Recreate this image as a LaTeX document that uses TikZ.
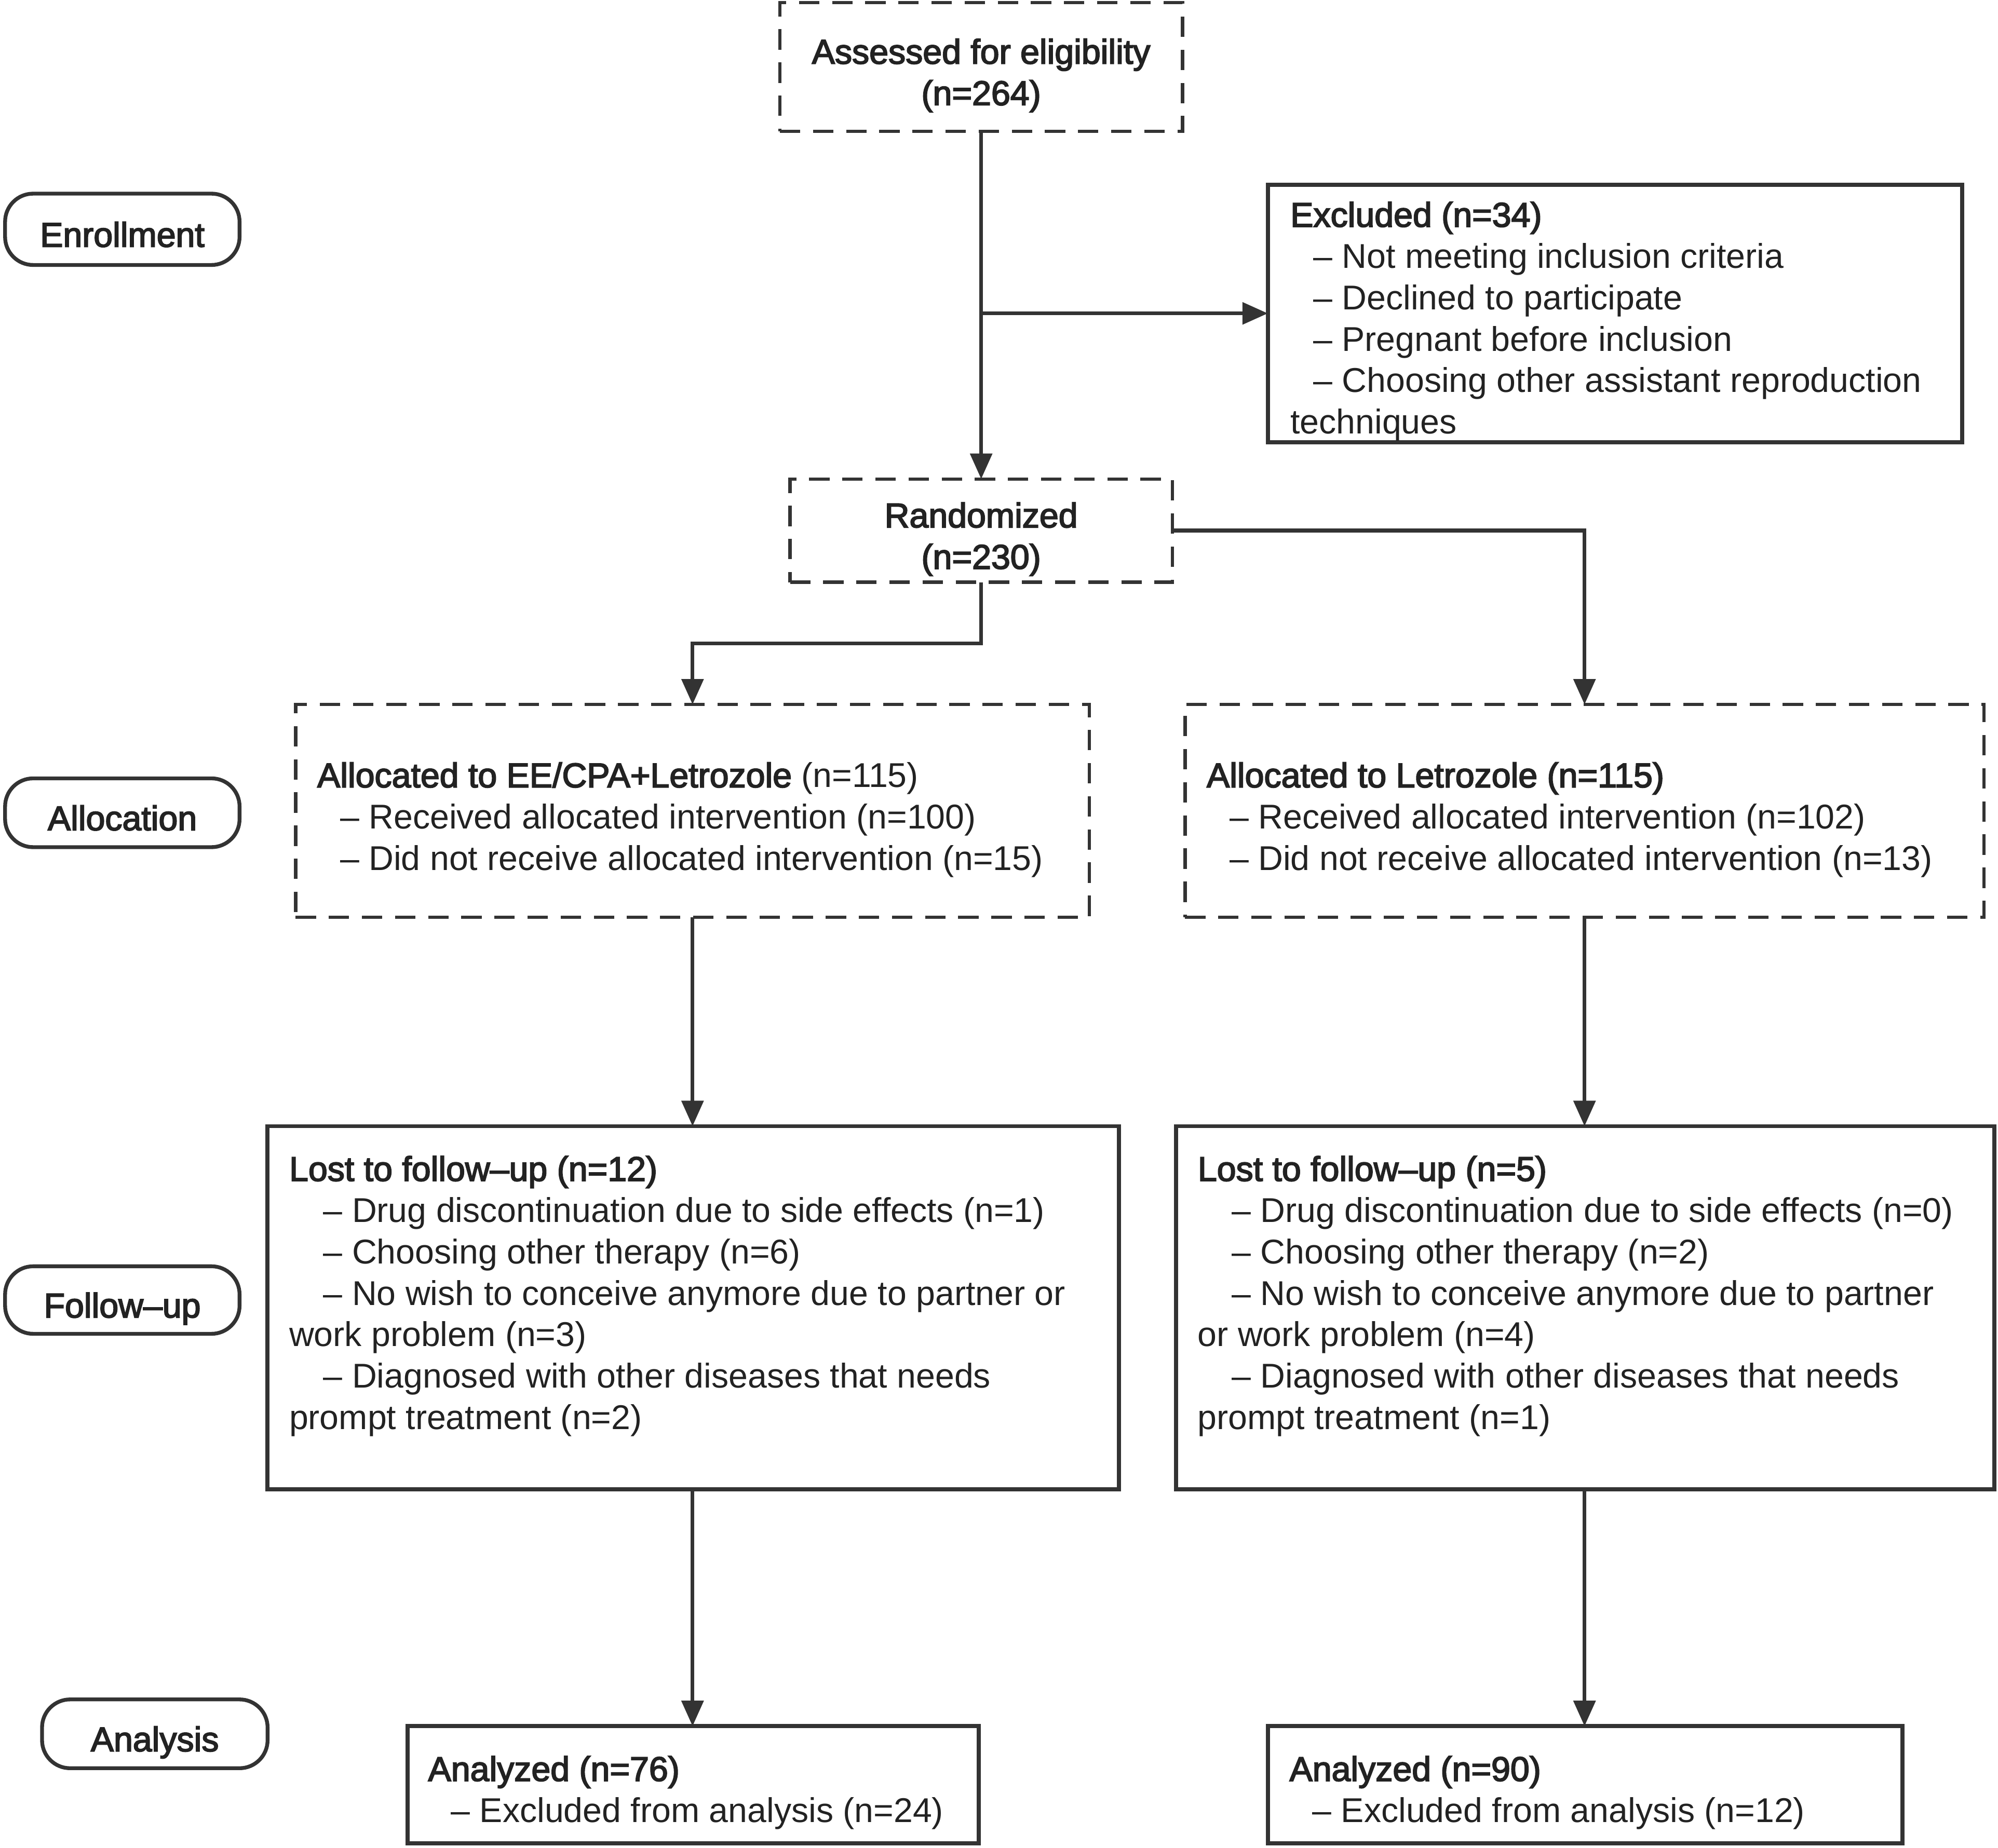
\documentclass[tikz,border=0pt]{standalone}
\usepackage{fontspec}
\setmainfont{Liberation Sans}
\newfontfamily\medfont{Liberation Sans}[FakeBold=3]
\usetikzlibrary{arrows.meta}
\definecolor{ln}{HTML}{333333}
\definecolor{tx}{HTML}{222222}
\newcommand{\inda}{\hspace*{9pt}}
\newcommand{\indb}{\hspace*{13.4pt}}
\newcommand{\md}[1]{{\medfont #1}}
\begin{document}
\begin{tikzpicture}[x=0.5pt,y=-0.5pt,
  sbox/.style={draw=ln, line width=1.6pt, inner sep=0pt, outer sep=0pt},
  dbox/.style={draw=ln, line width=1.3pt, dash pattern=on 8pt off 5pt, inner sep=0pt, outer sep=0pt},
  stad/.style={draw=ln, line width=1.5pt, rounded corners=11pt, inner sep=0pt, text=tx,
    text height=13.7pt, text depth=0pt,
    font=\fontsize{13.5}{16.25}\selectfont\medfont},
  txt/.style={inner sep=0pt, outer sep=0pt, text=tx, font=\fontsize{13.5}{16.25}\selectfont},
  arr/.style={draw=ln, line width=1.5pt, -{Triangle[length=10pt,width=8.5pt]}},
]
\useasboundingbox (0,0) rectangle (1568,1450.6);

% stage labels
\node[stad, minimum width=92pt, minimum height=28pt] (enr) at (96,180) {Enrollment};
\node[stad, minimum width=92pt, minimum height=27pt] (alc) at (96,638) {Allocation};
\node[stad, minimum width=92pt, minimum height=26.5pt] (fup) at (96,1020.5) {Follow–up};
\node[stad, minimum width=88.5pt, minimum height=27pt] (ana) at (121.5,1361) {Analysis};

% boxes
\node[dbox, minimum width=158pt, minimum height=50.5pt] (assess) at (770,52.5) {};
\node[sbox, minimum width=272.5pt, minimum height=101pt] (excl) at (1267.5,246) {};
\node[dbox, minimum width=150pt, minimum height=40.5pt] (rand) at (770,416.5) {};
\node[dbox, minimum width=311.5pt, minimum height=83.5pt] (allocL) at (543.5,636.5) {};
\node[dbox, minimum width=313.5pt, minimum height=83.5pt] (allocR) at (1243.5,636.5) {};
\node[sbox, minimum width=334pt, minimum height=142.5pt] (lostL) at (544,1026.5) {};
\node[sbox, minimum width=321pt, minimum height=142.5pt] (lostR) at (1244,1026.5) {};
\node[sbox, minimum width=224pt, minimum height=46pt] (anaL) at (544,1401) {};
\node[sbox, minimum width=249pt, minimum height=46pt] (anaR) at (1244,1401) {};

% texts
\node[txt, anchor=base] (assessT) at (770,50) {\begin{tabular}[t]{@{}c@{}}\md{Assessed for eligibility}\\\md{(n=264)}\end{tabular}};
\node[txt, anchor=base west] (exclT) at (1012.7,178) {\begin{tabular}[t]{@{}l@{}}
\md{Excluded (n=34)}\\
\inda– Not meeting inclusion criteria\\
\inda– Declined to participate\\
\inda– Pregnant before inclusion\\
\inda– Choosing other assistant reproduction\\
techniques\end{tabular}};
\node[txt, anchor=base] (randT) at (770,414) {\begin{tabular}[t]{@{}c@{}}\md{Randomized}\\\md{(n=230)}\end{tabular}};
\node[txt, anchor=base west] (allocLT) at (249,618) {\begin{tabular}[t]{@{}l@{}}
\md{Allocated to EE/CPA+Letrozole} (n=115)\\
\inda– Received allocated intervention (n=100)\\
\inda– Did not receive allocated intervention (n=15)\end{tabular}};
\node[txt, anchor=base west] (allocRT) at (947,618) {\begin{tabular}[t]{@{}l@{}}
\md{Allocated to Letrozole (n=115)}\\
\inda– Received allocated intervention (n=102)\\
\inda– Did not receive allocated intervention (n=13)\end{tabular}};
\node[txt, anchor=base west] (lostLT) at (227,927) {\begin{tabular}[t]{@{}l@{}}
\md{Lost to follow–up (n=12)}\\
\indb– Drug discontinuation due to side effects (n=1)\\
\indb– Choosing other therapy (n=6)\\
\indb– No wish to conceive anymore due to partner or\\
work problem (n=3)\\
\indb– Diagnosed with other diseases that needs\\
prompt treatment (n=2)\end{tabular}};
\node[txt, anchor=base west] (lostRT) at (940,927) {\begin{tabular}[t]{@{}l@{}}
\md{Lost to follow–up (n=5)}\\
\indb– Drug discontinuation due to side effects (n=0)\\
\indb– Choosing other therapy (n=2)\\
\indb– No wish to conceive anymore due to partner\\
or work problem (n=4)\\
\indb– Diagnosed with other diseases that needs\\
prompt treatment (n=1)\end{tabular}};
\node[txt, anchor=base west] (anaLT) at (336,1398) {\begin{tabular}[t]{@{}l@{}}
\md{Analyzed (n=76)}\\
\inda– Excluded from analysis (n=24)\end{tabular}};
\node[txt, anchor=base west] (anaRT) at (1012,1398) {\begin{tabular}[t]{@{}l@{}}
\md{Analyzed (n=90)}\\
\inda– Excluded from analysis (n=12)\end{tabular}};

% connectors
\draw[arr] (assess.south) -- (rand.north);
\draw[arr] (assess.south |- excl.west) -- (excl.west);
\draw[arr] (rand.south) -- ++(0,48) -| (allocL.north);
\draw[arr] (rand.east) -| (allocR.north);
\draw[arr] (allocL.south) -- (allocL.south |- lostL.north);
\draw[arr] (allocR.south) -- (allocR.south |- lostR.north);
\draw[arr] (allocL.south |- lostL.south) -- (allocL.south |- anaL.north);
\draw[arr] (allocR.south |- lostR.south) -- (allocR.south |- anaR.north);
\end{tikzpicture}
\end{document}
